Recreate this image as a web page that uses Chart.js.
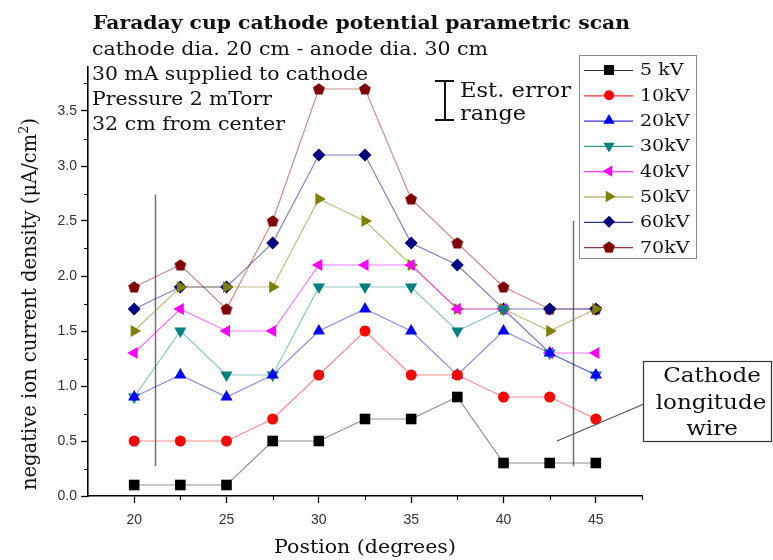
<!DOCTYPE html>
<html>
<head>
<meta charset="utf-8">
<script src="https://cdn.jsdelivr.net/npm/chart.js@4.4.1/dist/chart.umd.min.js"></script>
<style>
  html, body { margin: 0; padding: 0; background: #fff; }
  #wrap { width: 773px; height: 560px; position: relative; }
</style>
</head>
<body>
<div id="wrap"><canvas id="scan"></canvas></div>
<script>
// angular position of the cup (degrees)
const positions = [20, 22.5, 25, 27.5, 30, 32.5, 35, 37.5, 40, 42.5, 45];

// current density (uA/cm^2) per cathode potential
const kv5  = [0.1, 0.1, 0.1, 0.5, 0.5, 0.7, 0.7, 0.9, 0.3, 0.3, 0.3];
const kv10 = [0.5, 0.5, 0.5, 0.7, 1.1, 1.5, 1.1, 1.1, 0.9, 0.9, 0.7];
const kv20 = [0.9, 1.1, 0.9, 1.1, 1.5, 1.7, 1.5, 1.1, 1.5, 1.3, 1.1];
const kv30 = [0.9, 1.5, 1.1, 1.1, 1.9, 1.9, 1.9, 1.5, 1.7, 1.3, 1.1];
const kv40 = [1.3, 1.7, 1.5, 1.5, 2.1, 2.1, 2.1, 1.7, 1.7, 1.3, 1.3];
const kv50 = [1.5, 1.9, 1.9, 1.9, 2.7, 2.5, 2.1, 1.7, 1.7, 1.5, 1.7];
const kv60 = [1.7, 1.9, 1.9, 2.3, 3.1, 3.1, 2.3, 2.1, 1.7, 1.7, 1.7];
const kv70 = [1.9, 2.1, 1.7, 2.5, 3.7, 3.7, 2.7, 2.3, 1.9, 1.7, 1.7];

const seriesNames = ['5 kV', '10kV', '20kV', '30kV', '40kV', '50kV', '60kV', '70kV'];
const seriesValues = [kv5, kv10, kv20, kv30, kv40, kv50, kv60, kv70];

const xTicks = [20, 25, 30, 35, 40, 45];
const xMinor = [22.5, 27.5, 32.5, 37.5, 42.5, 47.5];
const yTicks = [0, 0.5, 1.0, 1.5, 2.0, 2.5, 3.0, 3.5];
const yMinor = [0.25, 0.75, 1.25, 1.75, 2.25, 2.75, 3.25, 3.75];

// the two longitude wires of the cathode grid, [position, bottom, top]
const wires = [[21.15, 0.27, 2.74], [43.75, 0.27, 2.5]];

const SERIF = '"DejaVu Serif", "Liberation Serif", serif';
const SANS = '"Liberation Sans", Arial, sans-serif';

// pentagon marker, not one of the built-in styles
function pentagon(color) {
  const c = document.createElement('canvas');
  c.width = 14; c.height = 14;
  const g = c.getContext('2d');
  g.fillStyle = color;
  g.beginPath();
  for (let i = 0; i < 5; i++) {
    const a = -Math.PI / 2 + i * 2 * Math.PI / 5;
    const px = 7 + 6.2 * Math.cos(a), py = 7.5 + 6.2 * Math.sin(a);
    i ? g.lineTo(px, py) : g.moveTo(px, py);
  }
  g.closePath();
  g.fill();
  return c;
}

const markers = [
  { color: '#000000', line: 'rgba(0,0,0,0.45)',      style: 'rect',     rot: 0,   r: 7.5 },
  { color: '#ff0000', line: 'rgba(255,0,0,0.45)',    style: 'circle',   rot: 0,   r: 5.5 },
  { color: '#0000ff', line: 'rgba(0,0,200,0.45)',    style: 'triangle', rot: 0,   r: 7 },
  { color: '#008080', line: 'rgba(0,128,128,0.45)',  style: 'triangle', rot: 180, r: 7 },
  { color: '#ff00ff', line: 'rgba(255,0,255,0.55)',  style: 'triangle', rot: 270, r: 7 },
  { color: '#808000', line: 'rgba(128,128,0,0.5)',   style: 'triangle', rot: 90,  r: 7 },
  { color: '#000080', line: 'rgba(0,0,128,0.5)',     style: 'rectRot',  rot: 0,   r: 6.5 },
  { color: '#800000', line: 'rgba(128,0,0,0.45)',    style: pentagon('#800000'), rot: 0, r: 7 }
];

const datasets = seriesValues.map((vals, i) => ({
  label: seriesNames[i],
  data: vals.map((v, j) => ({ x: positions[j], y: v })),
  borderColor: markers[i].line,
  borderWidth: 1.2,
  backgroundColor: markers[i].color,
  pointBackgroundColor: markers[i].color,
  pointBorderColor: markers[i].color,
  pointBorderWidth: 0,
  pointStyle: markers[i].style,
  pointRotation: markers[i].rot,
  pointRadius: markers[i].r,
  pointHoverRadius: markers[i].r,
  tension: 0
}));

function drawMarker(ctx, m, x, y) {
  if (Chart.helpers && Chart.helpers.drawPoint) {
    ctx.save();
    ctx.fillStyle = m.color;
    ctx.strokeStyle = m.color;
    ctx.lineWidth = 0;
    Chart.helpers.drawPoint(ctx, { pointStyle: m.style, rotation: m.rot, radius: m.r - 0.5, borderWidth: 0 }, x, y);
    ctx.restore();
  }
}

// text stretched sideways to a given width (the serif face runs narrow)
function fitText(ctx, s, x, y, width) {
  const w = ctx.measureText(s).width;
  ctx.save();
  ctx.translate(x, y);
  ctx.scale(width / w, 1);
  ctx.fillText(s, 0, 0);
  ctx.restore();
}

function wideText(ctx, s, x, y, k) {
  ctx.save();
  ctx.translate(x, y);
  ctx.scale(k, 1);
  ctx.fillText(s, 0, 0);
  ctx.restore();
}

const decorations = {
  id: 'decorations',
  beforeDatasetsDraw(chart) {
    const { ctx, scales: { x, y } } = chart;
    ctx.save();
    ctx.strokeStyle = '#707070';
    ctx.lineWidth = 1.5;
    wires.forEach(([p, lo, hi]) => {
      const px = Math.round(x.getPixelForValue(p)) + 0.5;
      ctx.beginPath();
      ctx.moveTo(px, y.getPixelForValue(lo));
      ctx.lineTo(px, y.getPixelForValue(hi));
      ctx.stroke();
    });
    ctx.restore();
  },
  afterDraw(chart) {
    const { ctx, chartArea: a, scales: { x, y } } = chart;
    ctx.save();

    // minor ticks
    ctx.strokeStyle = '#000';
    ctx.lineWidth = 1.2;
    ctx.beginPath();
    yMinor.forEach(v => {
      const py = Math.round(y.getPixelForValue(v)) + 0.5;
      ctx.moveTo(a.left - 4, py); ctx.lineTo(a.left, py);
    });
    xMinor.forEach(v => {
      const px = Math.round(x.getPixelForValue(v)) + 0.5;
      ctx.moveTo(px, a.bottom); ctx.lineTo(px, a.bottom + 4);
    });
    ctx.stroke();

    // title block
    ctx.fillStyle = '#111';
    ctx.textBaseline = 'alphabetic';
    ctx.textAlign = 'left';
    ctx.font = 'bold 18px ' + SERIF;
    fitText(ctx, 'Faraday cup cathode potential parametric scan', 93, 29, 537);
    ctx.font = '18px ' + SERIF;
    fitText(ctx, 'cathode dia. 20 cm - anode dia. 30 cm', 92, 55, 396);
    fitText(ctx, '30 mA supplied to cathode', 92, 80, 276);
    fitText(ctx, 'Pressure 2 mTorr', 92, 105, 180);
    fitText(ctx, '32 cm from center', 92, 130, 193);

    // error range glyph
    ctx.strokeStyle = '#111';
    ctx.lineWidth = 2;
    ctx.beginPath();
    ctx.moveTo(435, 81); ctx.lineTo(454, 81);
    ctx.moveTo(445, 81); ctx.lineTo(445, 120);
    ctx.moveTo(435, 120); ctx.lineTo(454, 120);
    ctx.stroke();
    ctx.font = '20px ' + SERIF;
    fitText(ctx, 'Est. error', 460, 97, 111);
    fitText(ctx, 'range', 460, 120, 66);

    // legend
    ctx.strokeStyle = '#888';
    ctx.lineWidth = 1;
    ctx.fillStyle = '#fff';
    ctx.fillRect(579, 55, 117, 203);
    ctx.strokeRect(579.5, 55.5, 117, 203);
    ctx.font = '17px ' + SERIF;
    seriesNames.forEach((name, i) => {
      const cy = 70 + i * 25.3;
      const m = markers[i];
      ctx.strokeStyle = m.line.replace(/[\d.]+\)$/, '0.8)');
      ctx.lineWidth = 1.2;
      ctx.beginPath();
      ctx.moveTo(584, cy + 0.5); ctx.lineTo(633, cy + 0.5);
      ctx.stroke();
      drawMarker(ctx, m, 609, cy);
      ctx.fillStyle = '#111';
      ctx.textBaseline = 'middle';
      wideText(ctx, name, 640, cy + 1, 1.12);
    });

    // wire annotation
    ctx.strokeStyle = '#555';
    ctx.lineWidth = 1.2;
    ctx.beginPath();
    ctx.moveTo(557, 441); ctx.lineTo(644, 404);
    ctx.stroke();
    ctx.fillStyle = '#fff';
    ctx.fillRect(643, 361, 129, 81);
    ctx.strokeStyle = '#333';
    ctx.strokeRect(643.5, 361.5, 128, 80);
    ctx.fillStyle = '#111';
    ctx.textBaseline = 'alphabetic';
    ctx.textAlign = 'center';
    ctx.font = '20px ' + SERIF;
    wideText(ctx, 'Cathode', 712, 382, 1.15);
    wideText(ctx, 'longitude', 711, 409, 1.15);
    wideText(ctx, 'wire', 712, 435, 1.15);

    // axis titles
    ctx.font = '18px ' + SERIF;
    wideText(ctx, 'Postion (degrees)', (a.left + a.right) / 2, 553, 1.14);

    ctx.save();
    ctx.translate(36, 304);
    ctx.rotate(-Math.PI / 2);
    const main = 'negative ion current density (\u03bcA/cm';
    ctx.font = '19.5px ' + SERIF;
    const w1 = ctx.measureText(main).width;
    const w3 = ctx.measureText(')').width;
    ctx.font = '13px ' + SERIF;
    const w2 = ctx.measureText('2').width;
    const sx = -(w1 + w2 + w3) / 2;
    ctx.textAlign = 'left';
    ctx.font = '19.5px ' + SERIF;
    ctx.fillText(main, sx, 0);
    ctx.font = '13px ' + SERIF;
    ctx.fillText('2', sx + w1, -8);
    ctx.font = '19.5px ' + SERIF;
    ctx.fillText(')', sx + w1 + w2, 0);
    ctx.restore();

    ctx.restore();
  }
};

new Chart(document.getElementById('scan'), {
  type: 'line',
  data: { datasets: datasets },
  options: {
    responsive: true,
    maintainAspectRatio: false,
    animation: false,
    layout: { padding: { top: 67, right: 131, left: 0, bottom: 0 } },
    plugins: {
      legend: { display: false },
      title: { display: false },
      tooltip: { enabled: false }
    },
    scales: {
      x: {
        type: 'linear',
        min: 17.5,
        max: 47.5,
        afterBuildTicks: s => { s.ticks = xTicks.map(v => ({ value: v })); },
        afterFit: s => { s.height = 64; },
        ticks: { color: '#333', font: { family: SANS, size: 14 }, padding: 9, maxRotation: 0 },
        grid: { display: true, drawOnChartArea: false, drawTicks: true, tickLength: 7, color: '#000', tickWidth: 1.3 },
        border: { display: true, color: '#000', width: 1.6 }
      },
      y: {
        type: 'linear',
        min: 0,
        max: 3.9,
        afterBuildTicks: s => { s.ticks = yTicks.map(v => ({ value: v })); },
        afterFit: s => { s.width = 88; },
        ticks: { color: '#333', font: { family: SANS, size: 14 }, padding: 4, callback: v => v.toFixed(1) },
        grid: { display: true, drawOnChartArea: false, drawTicks: true, tickLength: 7, color: '#000', tickWidth: 1.3 },
        border: { display: true, color: '#000', width: 1.6 }
      }
    }
  },
  plugins: [decorations]
});
</script>
</body>
</html>
